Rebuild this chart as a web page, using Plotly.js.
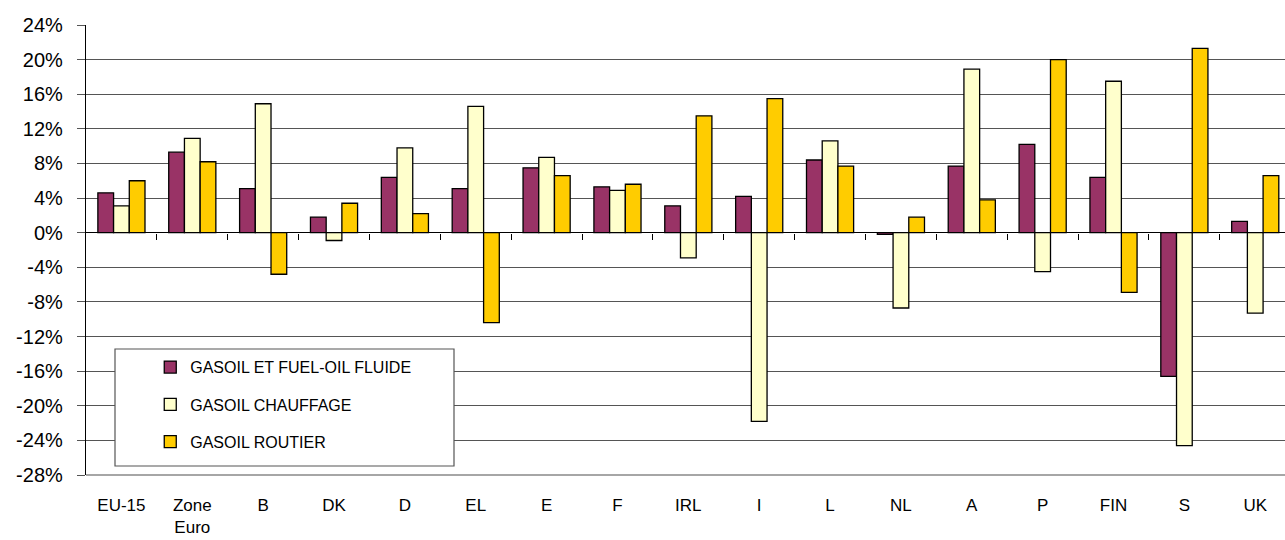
<!DOCTYPE html>
<html>
<head>
<meta charset="utf-8">
<script src="https://cdn.plot.ly/plotly-3.0.1.min.js"></script>
<style>html,body{margin:0;padding:0;background:#fff;}#chart{width:1285px;height:540px;}</style>
</head>
<body>
<div id="chart"></div>
<script>
const categories = ["EU-15", "Zone<br>Euro", "B", "DK", "D", "EL", "E", "F", "IRL", "I", "L", "NL", "A", "P", "FIN", "S", "UK"];
const seriesNames = ["GASOIL ET FUEL-OIL FLUIDE", "GASOIL CHAUFFAGE", "GASOIL ROUTIER"];
const fluide    = [4.6, 9.3, 5.1, 1.8, 6.4, 5.1, 7.5, 5.3, 3.1, 4.2, 8.4, -0.2, 7.7, 10.2, 6.4, -16.6, 1.3];
const chauffage = [3.1, 10.9, 14.9, -0.9, 9.8, 14.6, 8.7, 4.9, -2.9, -21.8, 10.6, -8.7, 18.9, -4.5, 17.5, -24.6, -9.3];
const routier   = [6.0, 8.2, -4.8, 3.4, 2.2, -10.4, 6.6, 5.6, 13.5, 15.5, 7.7, 1.8, 3.8, 20.0, -6.9, 21.3, 6.6];
const yTicks = [-28, -24, -20, -16, -12, -8, -4, 0, 4, 8, 12, 16, 20, 24];
const yTickLabels = yTicks.map(v => v + "%");

const colors = ["#993366", "#FFFFCC", "#FFCC00"];
const seriesValues = [fluide, chauffage, routier];

const traces = seriesValues.map((vals, i) => ({
  type: "bar",
  name: seriesNames[i],
  x: categories,
  y: vals,
  marker: {color: colors[i], line: {color: "#000", width: 1.3}},
  legendgroup: "g" + i,
  hoverinfo: "x+y"
}));

// invisible trace to carry the tick axis at y=0
traces.push({
  type: "bar", x: categories, y: categories.map(() => null),
  xaxis: "x2", showlegend: false, hoverinfo: "skip"
});

const xRange = [-0.5, 16.42];
const boundaryTicks = categories.map((_, i) => i + 0.5);
const font = "Liberation Sans, Arial, sans-serif";

const layout = {
  width: 1285, height: 540,
  margin: {l: 86, r: 0, t: 25, b: 65},
  paper_bgcolor: "#fff", plot_bgcolor: "#fff",
  barmode: "group", bargap: 0.335, bargroupgap: 0,
  showlegend: true,
  legend: {
    x: 0.0244, y: 0.2773, xanchor: "left", yanchor: "top",
    bgcolor: "rgba(0,0,0,0)", borderwidth: 0,
    font: {family: font, size: 16, color: "#000"},
    tracegroupgap: 13.5, indentation: 35,
    traceorder: "grouped"
  },
  xaxis: {
    type: "category", categoryarray: categories, range: xRange,
    showgrid: false, zeroline: false, showline: false,
    ticks: "", tickfont: {family: font, size: 17, color: "#000"},
    ticklabelstandoff: 18
  },
  xaxis2: {
    type: "category", categoryarray: categories, range: xRange,
    overlaying: "x", anchor: "free", position: 28/52, side: "bottom",
    showgrid: false, zeroline: false, showline: false,
    tickmode: "array", tickvals: boundaryTicks, ticktext: boundaryTicks.map(() => ""),
    ticks: "outside", ticklen: 6, tickcolor: "#000", tickwidth: 1,
    showticklabels: false
  },
  yaxis: {
    range: [-28, 24], tickvals: yTicks, ticktext: yTickLabels,
    showgrid: true, gridcolor: "#555", gridwidth: 1,
    zeroline: true, zerolinecolor: "#000", zerolinewidth: 1.2,
    showline: true, linecolor: "#000", linewidth: 1.2,
    ticks: "outside", ticklen: 8, tickcolor: "#555",
    tickfont: {family: font, size: 20, color: "#000"},
    ticklabelstandoff: 10
  },
  shapes: [{
    type: "rect", xref: "paper", yref: "paper", layer: "above",
    x0: (115 - 86) / 1199, x1: (454 - 86) / 1199,
    y0: (475 - 466) / 450, y1: (475 - 349) / 450,
    fillcolor: "#fff", line: {color: "#555", width: 1.2}
  }, {
    type: "line", xref: "paper", yref: "paper", layer: "above",
    x0: 0, x1: 1, y0: 0, y1: 0, line: {color: "#888", width: 1.5}
  }]
};

Plotly.newPlot("chart", traces, layout, {displayModeBar: false, staticPlot: true});
</script>
</body>
</html>
